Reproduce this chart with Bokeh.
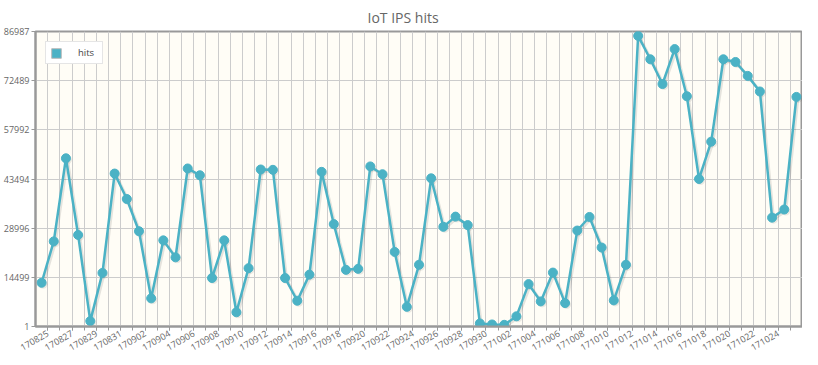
from bokeh.plotting import figure
from bokeh.models import FixedTicker, Range1d, Legend, LegendItem
from bokeh.embed import file_html
from bokeh.resources import INLINE

dates = ["170825", "170826", "170827", "170828", "170829", "170830", "170831",
         "170901", "170902", "170903", "170904", "170905", "170906", "170907",
         "170908", "170909", "170910", "170911", "170912", "170913", "170914",
         "170915", "170916", "170917", "170918", "170919", "170920", "170921",
         "170922", "170923", "170924", "170925", "170926", "170927", "170928",
         "170929", "170930", "171001", "171002", "171003", "171004", "171005",
         "171006", "171007", "171008", "171009", "171010", "171011", "171012",
         "171013", "171014", "171015", "171016", "171017", "171018", "171019",
         "171020", "171021", "171022", "171023", "171024", "171025", "171026"]

hits = [12900, 25100, 49600, 27000, 1600, 15800, 45100, 37600, 28100, 8300,
        25400, 20400, 46600, 44600, 14300, 25400, 4200, 17200, 46300, 46200,
        14300, 7600, 15300, 45600, 30200, 16700, 17000, 47200, 44900, 22000,
        5800, 18200, 43700, 29400, 32400, 29900, 900, 600, 500, 3000,
        12500, 7400, 15900, 6900, 28300, 32300, 23300, 7700, 18200, 85700,
        78800, 71500, 81800, 67900, 43500, 54500, 78800, 78000, 73900, 69300,
        32100, 34500, 67700]

y_ticks = [1, 14499, 28996, 43494, 57992, 72489, 86987]

series_name = "hits"
title_text = "IoT IPS hits"

COLOR = "#4bb2c5"
TEXT = "#666666"
FONT = "Open Sans"

n = len(dates)
xs = list(range(n))

p = figure(width=802, height=357,
           x_range=Range1d(-0.5, n - 0.5),
           y_range=Range1d(y_ticks[0], y_ticks[-1]),
           output_backend="svg", toolbar_location=None,
           title=title_text,
           min_border_left=31, min_border_right=0,
           min_border_top=24, min_border_bottom=0)

p.background_fill_color = "#fffdf6"
p.border_fill_color = "white"
p.outline_line_color = "#999999"
p.outline_line_width = 2

p.title.align = "left"
p.title.offset = 332
p.title.text_color = TEXT
p.title.text_font = FONT
p.title.text_font_size = "14px"
p.title.text_font_style = "normal"

# x axis: labels every other day, tick marks and grid at category boundaries
label_idx = list(range(0, n - 2, 2))
bounds = [i + 0.5 for i in range(n - 1)]
p.xaxis.axis_label = None
p.xaxis.axis_label_standoff = 0
p.xaxis.ticker = FixedTicker(ticks=[i + 0.5 for i in label_idx], minor_ticks=bounds)
p.xaxis.major_label_overrides = {i + 0.5: dates[i] for i in label_idx}
p.xaxis.major_label_orientation = 0.5236
p.xaxis.major_label_text_font = FONT
p.xaxis.major_label_text_font_size = "9px"
p.xaxis.major_label_text_color = TEXT
p.xaxis.major_label_standoff = 2
p.xaxis.major_tick_out = 4
p.xaxis.major_tick_in = 0
p.xaxis.minor_tick_out = 4
p.xaxis.minor_tick_in = 0
p.xaxis.major_tick_line_color = "#999999"
p.xaxis.minor_tick_line_color = "#999999"
p.xaxis.axis_line_color = "#999999"
p.xaxis.axis_line_width = 2

p.xgrid.ticker = FixedTicker(ticks=bounds)
p.xgrid.grid_line_color = "#cccccc"
p.xgrid.grid_line_width = 1

# y axis
p.yaxis.axis_label = None
p.yaxis.axis_label_standoff = 0
p.yaxis.ticker = FixedTicker(ticks=y_ticks)
p.yaxis.major_label_text_font = FONT
p.yaxis.major_label_text_font_size = "9px"
p.yaxis.major_label_text_color = TEXT
p.yaxis.major_label_standoff = 2
p.yaxis.major_tick_out = 4
p.yaxis.major_tick_in = 0
p.yaxis.minor_tick_out = 0
p.yaxis.minor_tick_in = 0
p.yaxis.major_tick_line_color = "#999999"
p.yaxis.axis_line_color = "#999999"
p.yaxis.axis_line_width = 2
p.ygrid.grid_line_color = "#cccccc"
p.ygrid.grid_line_width = 1

# legend swatch renderer (degenerate quad hidden under the first marker)
swatch = p.quad(left=[xs[0]], right=[xs[0]], top=[hits[0]], bottom=[hits[0]],
                fill_color=COLOR, line_color="#bbbbbb", line_width=1)

# subtle shadow under the series (offset of ~1.5 px)
px_y = (y_ticks[-1] - y_ticks[0]) / 297.0
px_x = 1.0 / 12.17
sh_x = [x + 1.5 * px_x for x in xs]
sh_y = [v - 1.5 * px_y for v in hits]
p.line(sh_x, sh_y, line_color="black", line_alpha=0.10, line_width=3)
p.scatter(sh_x, sh_y, size=9, fill_color="black", fill_alpha=0.08, line_color=None)

p.line(xs, hits, line_color=COLOR, line_width=2.5)
p.scatter(xs, hits, size=9, fill_color=COLOR, line_color=COLOR)

legend = Legend(items=[LegendItem(label=series_name, renderers=[swatch])],
                location="top_left")
legend.margin = 10
legend.padding = 4
legend.spacing = 0
legend.glyph_width = 12
legend.glyph_height = 12
legend.label_height = 12
legend.label_standoff = 16
legend.label_text_font = FONT
legend.label_text_font_size = "9.5px"
legend.label_text_color = "#444444"
legend.border_line_color = "#cccccc"
legend.background_fill_color = "white"
legend.background_fill_alpha = 1.0
p.add_layout(legend)

open("out.html", "w").write(file_html(p, INLINE))
